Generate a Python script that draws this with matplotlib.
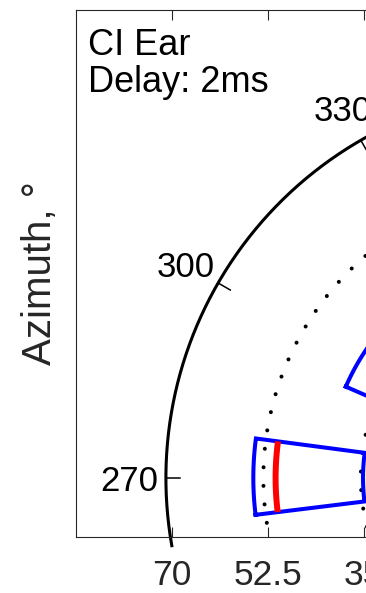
import numpy as np
import matplotlib.pyplot as plt

plt.rcParams['font.family'] = ['Liberation Sans', 'DejaVu Sans']

# polar grid (azimuth clockwise from straight ahead, radius in rating units)
outer_radius = 70
ring_radii = [52.5, 35, 17.5]
arc_start, arc_end = 260, 460
az_ticks = [270, 300, 330, 0, 30, 60, 90]
az_tick_labels = ['270', '300', '330', '0', '30', '60', '90']
x_tick_radii = [70, 52.5, 35, 17.5]
x_tick_labels = ['70', '52.5', '35', '17.5']

# response boxes: azimuth spread, radial spread and median radius
box_az_lo = [263.0, 293.5]
box_az_hi = [277.5, 318.5]
box_r_in = [34.6, 21.0]
box_r_out = [54.3, 41.1]
median_r = [50.3, 33.0]

gray = '#262626'


def pol(az, r):
    a = np.deg2rad(az)
    return r * np.sin(a), r * np.cos(a)


fig = plt.figure(figsize=(3.66, 5.93), dpi=100)
ax = fig.add_axes([0.2068, 0.0944, 2.623, 0.8887])
ax.set_xlim(-86.2, 86.2)
ax.set_ylim(-10.6, 84.0)

# outer ring with azimuth ticks and labels
az = np.linspace(arc_start, arc_end, 400)
x, y = pol(az, outer_radius)
ax.plot(x, y, color='black', linewidth=2.2, clip_on=False)
for a, lab in zip(az_ticks, az_tick_labels):
    tx, ty = pol(np.array([a, a]), np.array([outer_radius, outer_radius * 0.964]))
    ax.plot(tx, ty, color='black', linewidth=1.1, clip_on=False)
    lx, ly = pol(a, outer_radius * 1.095)
    ax.text(lx, ly, lab, fontsize=25, ha='center', va='center_baseline',
            color='black')

# dotted inner rings
full = np.linspace(0, 360, 720)
for r in ring_radii:
    x, y = pol(full, r)
    ax.plot(x, y, color='black', linewidth=2.9, linestyle=(0, (0.01, 4.6)),
            dash_capstyle='round')

# response boxes and median arcs
for lo, hi, rin, rout, rm in zip(box_az_lo, box_az_hi, box_r_in, box_r_out, median_r):
    a_out = np.linspace(lo, hi, 60)
    a_in = a_out[::-1]
    xo, yo = pol(a_out, rout)
    xi, yi = pol(a_in, rin)
    bx = np.concatenate([xo, xi, xo[:1]])
    by = np.concatenate([yo, yi, yo[:1]])
    ax.plot(bx, by, color='blue', linewidth=2.9, solid_joinstyle='miter')
    xm, ym = pol(a_out, rm)
    ax.plot(xm, ym, color='red', linewidth=4.3, solid_capstyle='butt')

ax.text(-83.9, 80.8, 'CI Ear\nDelay: 2ms', fontsize=26, ha='left', va='top',
        linespacing=1.08, color='black')

# axes box
tick_pos = [-r * np.cos(np.deg2rad(10)) for r in x_tick_radii]
tick_pos += [0] + [r * np.cos(np.deg2rad(10)) for r in x_tick_radii[::-1]]
tick_lab = x_tick_labels + ['0'] + x_tick_labels[::-1]
ax.set_xticks(tick_pos)
ax.set_xticklabels(tick_lab)
ax.set_yticks([])
ax.tick_params(axis='x', direction='in', length=7.2, width=0.8, top=True,
               labeltop=False, labelsize=25.5, labelcolor=gray, color=gray, pad=16)
for s in ax.spines.values():
    s.set_color(gray)
    s.set_linewidth(0.8)

ax.set_ylabel('Azimuth, °', fontsize=29, color=gray, va='center')
ax.yaxis.set_label_coords(-0.0372, 0.5)

fig.savefig('out.png', dpi=100)
